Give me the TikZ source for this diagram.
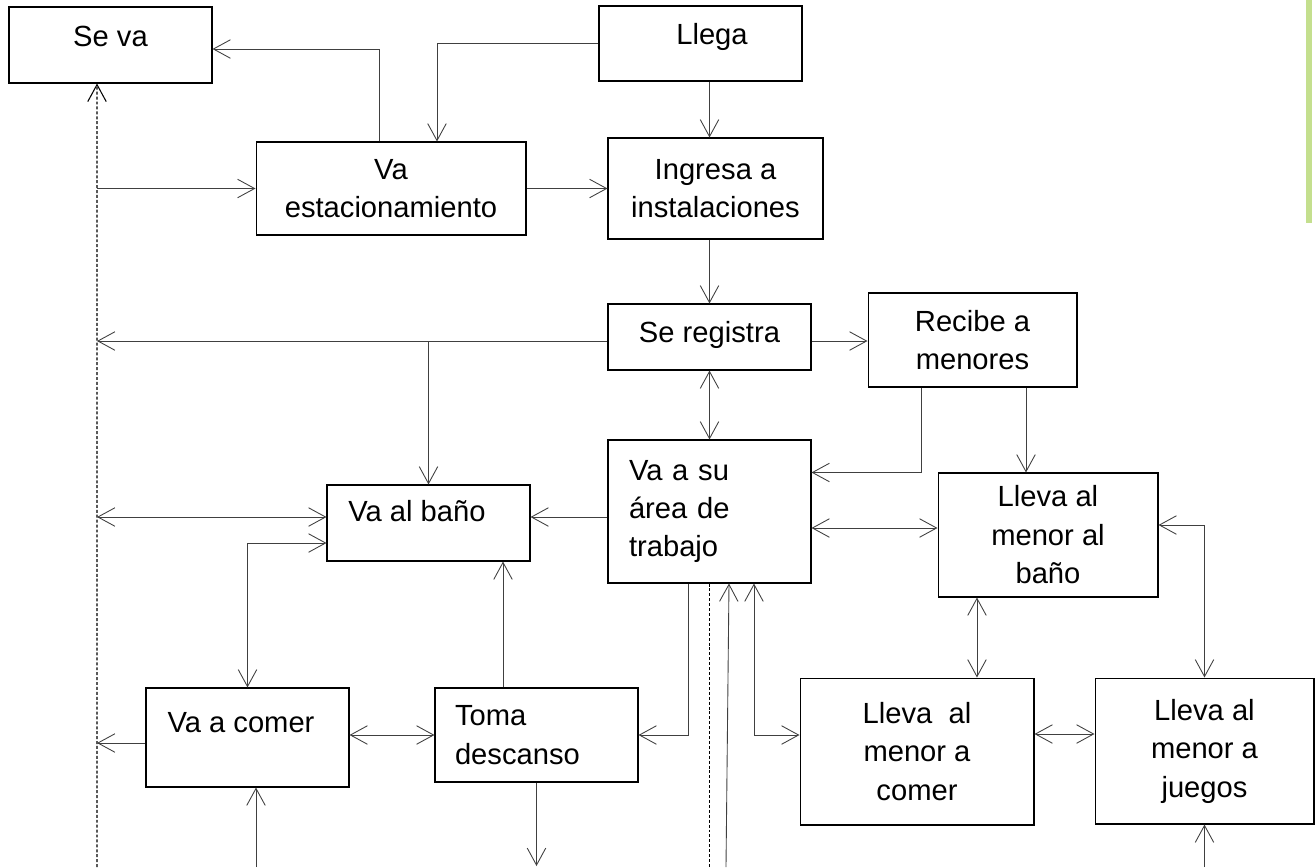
\documentclass[tikz,border=0pt]{standalone}
\usepackage{fontspec}
\setmainfont{Liberation Sans}
\usetikzlibrary{arrows.meta}
\definecolor{verde}{HTML}{C4DF8E}

\begin{document}
\begin{tikzpicture}[x=0.02cm,y=-0.02cm,
    caja/.style 2 args={draw,line width=0.6pt,minimum width=#1,minimum height=#2,inner sep=0pt,align=center,font=\fontsize{16.6pt}{21.9pt}\selectfont},
    flecha/.style={draw=black!75,line width=0.5pt,-{Straight Barb[length=3.4mm,width=3.7mm]}},
    dflecha/.style={flecha,{Straight Barb[length=3.4mm,width=3.7mm]}-{Straight Barb[length=3.4mm,width=3.7mm]}},
    punteada/.style={draw=black,line width=0.6pt,dash pattern=on 1.7pt off 1.1pt}]
\useasboundingbox (0,0) rectangle (1316,867);
\fill[verde] (1306,0) rectangle (1312,223);
% Cajas
    \node[caja={4.06cm}{1.52cm},text depth=10.2pt] (seva) at (110.5,45) {Se va};
    \node[caja={4.06cm}{1.50cm},text depth=10.8pt] (llega) at (700.5,43.5) {\hspace*{0.46cm}Llega};
    \node[caja={5.40cm}{1.86cm}] (vaest) at (391,188.5) {Va\\estacionamiento};
    \node[caja={4.30cm}{2.02cm}] (ingresa) at (715.5,188.5) {Ingresa a\\instalaciones};
    \node[caja={4.06cm}{1.32cm},text depth=5.7pt] (seregistra) at (709.5,337) {Se registra};
    \node[caja={4.18cm}{1.88cm}] (recibe) at (972.5,340) {Recibe a\\menores};
    \node[caja={4.06cm}{2.86cm},text width=3.22cm,align=left] (vaarea) at (709.5,511.5) {Va a su\\área de\\trabajo};
    \node[caja={4.06cm}{1.52cm},text depth=13.6pt] (vabano) at (428.5,523) {Va al baño\hspace*{0.46cm}};
    \node[caja={4.40cm}{2.48cm}] (llevabano) at (1048,535) {Lleva al\\menor al\\baño};
    \node[caja={4.06cm}{1.98cm},text depth=17.6pt] (vacomer) at (247.5,737.5) {Va a comer\hspace*{0.26cm}};
    \node[caja={4.06cm}{1.88cm},text width=3.26cm,align=left] (toma) at (536.5,735) {Toma\\descanso};
    \node[caja={4.68cm}{2.94cm}] (llevacomer) at (917,751.5) {Lleva\ \ al\\menor a\\comer};
    \node[caja={4.38cm}{2.92cm}] (llevajuegos) at (1204.5,751) {Lleva al\\menor a\\juegos};
% Puntos libres
    \coordinate (base) at (97,867);
    \coordinate (pie1) at (256,867);
    \coordinate (pie2) at (537,866);
    \coordinate (pie3) at (726,867);
    \coordinate (y517) at ([yshift=-0.11cm]vaarea.west);
    \coordinate (r1) at ([yshift=-0.08cm]seregistra.west);
    \coordinate (c1) at ([yshift=-0.11cm]vacomer.west);
% Linea punteada
    \draw[punteada,-{Straight Barb[length=3.4mm,width=3.7mm]}] (base) -- ([xshift=-0.27cm]seva.south);
    \draw[punteada] (vaarea.south) -- (vaarea.south |- base);
% Entrada
    \draw[flecha] (llega.west) -| ([xshift=0.92cm]vaest.north);
    \draw[flecha] (seregistra.north |- llega.south) -- (seregistra.north |- ingresa.north);
    \draw[flecha] ([xshift=-0.24cm]vaest.north) |- ([yshift=-0.08cm]seva.east);
    \draw[flecha] (base |- vaest.west) -- (vaest.west);
    \draw[flecha] (vaest.east) -- (vaest.east -| ingresa.west);
    \draw[flecha] (seregistra.north |- ingresa.south) -- (seregistra.north);
% Registro
    \draw[flecha] (r1) -- (base |- r1);
    \draw[flecha] (vabano.north |- r1) -- (vabano.north);
    \draw[flecha] (r1 -| seregistra.east) -- (r1 -| recibe.west);
    \draw[dflecha] (seregistra.south) -- (vaarea.north);
    \draw[flecha] ([xshift=-1.03cm]recibe.south) |- (vaarea.east |- llevabano.north);
    \draw[flecha] ([xshift=-0.44cm]llevabano.north |- recibe.south) -- ([xshift=-0.44cm]llevabano.north);
% Trabajo
    \draw[flecha] (y517) -- (y517 -| vabano.east);
    \draw[dflecha] (base |- y517) -- (y517 -| vabano.west);
    \draw[dflecha] ([yshift=-0.4cm]vabano.west) -| (vacomer.north);
    \draw[dflecha] ([yshift=-0.33cm]vaarea.east) -- ([yshift=-0.33cm]vaarea.east -| llevabano.west);
    \draw[dflecha] ([yshift=0.2cm]llevabano.east) -| (llevajuegos.north);
    \draw[dflecha] ([xshift=1.2cm]llevacomer.north |- llevabano.south) -- ([xshift=1.2cm]llevacomer.north);
    \draw[dflecha] ([yshift=0.35cm]llevacomer.east) -- ([yshift=0.35cm]llevacomer.east -| llevajuegos.west);
    \draw[dflecha] (toma.west -| vacomer.east) -- (toma.west);
    \draw[flecha] ([xshift=-0.67cm]toma.north) -- ([xshift=-0.67cm]toma.north |- vabano.south);
    \draw[flecha] ([xshift=-0.43cm]vaarea.south) |- (toma.east);
    \draw[flecha] (c1) -- (base |- c1);
    \draw[dflecha] ([xshift=0.89cm]vaarea.south) |- ([yshift=0.33cm]llevacomer.west);
% Salidas abajo
    \draw[flecha] (pie1) -- (pie1 |- vacomer.south);
    \draw[flecha] (toma.south) -- (toma.south |- pie2);
    \draw[flecha] (pie3) -- ([xshift=0.39cm]vaarea.south);
    \draw[flecha] (llevajuegos.south |- base) -- (llevajuegos.south);
\end{tikzpicture}
\end{document}
